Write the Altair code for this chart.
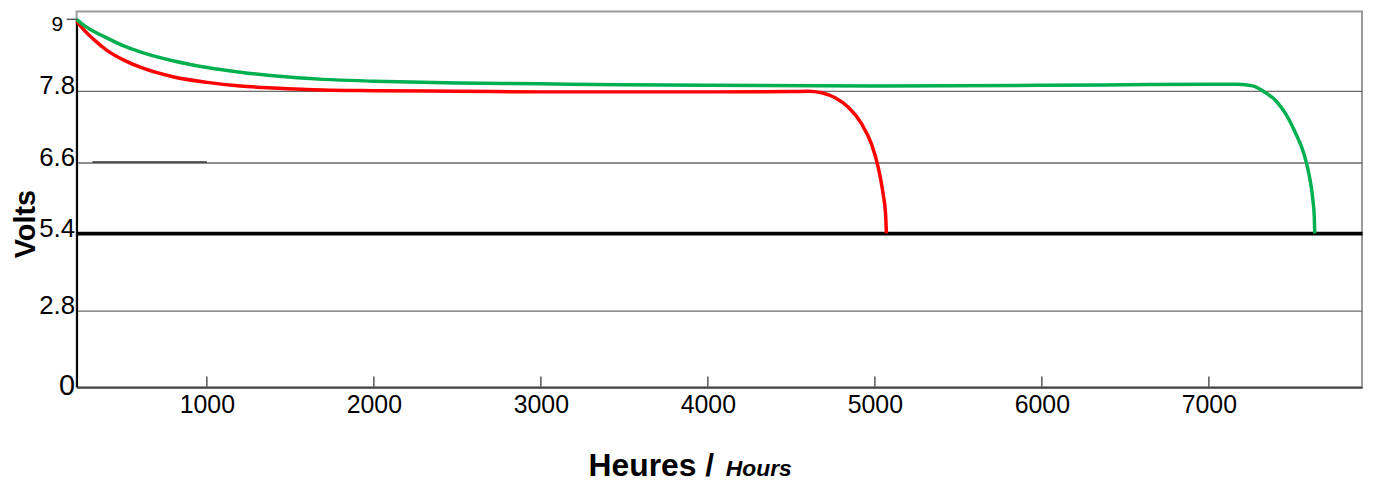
import altair as alt
import pandas as pd

# ---- data ----
red_hours = [220, 268, 327, 406, 506, 605, 803, 1002, 1200, 1399, 1696, 2000, 2500, 3000,
             3500, 4000, 4500, 4601, 4681, 4762, 4841, 4921, 4980, 5020, 5049, 5064, 5069]
red_volts = [8.97, 8.81, 8.65, 8.47, 8.31, 8.19, 8.03, 7.94, 7.88, 7.845, 7.81, 7.80, 7.79, 7.78,
             7.78, 7.78, 7.785, 7.79, 7.765, 7.68, 7.52, 7.24, 6.90, 6.51, 6.07, 5.73, 5.40]

green_hours = [220, 268, 327, 406, 506, 605, 803, 1002, 1200, 1399, 1696, 2000, 2500, 3000,
               3500, 4000, 5000, 6000, 6500, 7000, 7173, 7262, 7321, 7401, 7460, 7520, 7569,
               7599, 7623, 7631, 7634]
green_volts = [9.0, 8.89, 8.79, 8.68, 8.55, 8.45, 8.30, 8.19, 8.11, 8.05, 7.99, 7.96, 7.93, 7.915,
               7.90, 7.89, 7.88, 7.89, 7.90, 7.91, 7.91, 7.88, 7.80, 7.63, 7.41, 7.08, 6.74,
               6.40, 5.96, 5.68, 5.40]

x_ticks = [1000, 2000, 3000, 4000, 5000, 6000, 7000]
y_ticks = [0, 2.8, 5.4, 6.6, 7.8, 9]

FONT = "Liberation Sans"

curves = pd.concat([
    pd.DataFrame({"hours": red_hours, "volts": red_volts, "serie": "red"}),
    pd.DataFrame({"hours": green_hours, "volts": green_volts, "serie": "green"}),
])

xscale = alt.Scale(domain=[220, 7917], nice=False, zero=False)
yscale = alt.Scale(domain=[0, 2.8, 5.4, 9], range=[377.5, 301, 223.3, 8], nice=False, zero=False)

yaxis = alt.Axis(
    values=y_ticks, title=None, ticks=False,
    labelExpr="(datum.value == 0 || datum.value == 9) ? format(datum.value, 'd') : format(datum.value, '.1f')",
    domainColor="black", domainWidth=2,
    labelFont=FONT, labelColor="black",
    labelFontSize={"condition": [{"test": "datum.value == 9", "value": 21},
                                 {"test": "datum.value == 0", "value": 29}], "value": 26},
    labelPadding={"condition": {"test": "datum.value == 9", "value": 14}, "value": 2},
    labelBaseline="alphabetic",
    labelOffset={"condition": [{"test": "datum.value == 9", "value": 11},
                               {"test": "datum.value == 0", "value": 8}], "value": 3},
    grid=True,
    gridColor={"condition": {"test": "datum.value == 5.4", "value": "black"}, "value": "#6a6a6a"},
    gridWidth={"condition": {"test": "datum.value == 5.4", "value": 3.8}, "value": 1.3},
    gridOpacity={"condition": {"test": "datum.value == 9 || datum.value == 0", "value": 0}, "value": 1},
)
xaxis = alt.Axis(
    values=x_ticks, format="d", title=None, ticks=False, grid=False,
    domainColor="#444444", domainWidth=2,
    labelFont=FONT, labelColor="black", labelFontSize=25, labelPadding=5,
)

lines = alt.Chart(curves).mark_line(strokeWidth=3.5, interpolate="monotone").encode(
    x=alt.X("hours:Q", scale=xscale, axis=xaxis),
    y=alt.Y("volts:Q", scale=yscale, axis=yaxis),
    color=alt.Color("serie:N", scale=alt.Scale(domain=["red", "green"], range=["#FF0000", "#00B050"]), legend=None),
)

xtick_df = pd.DataFrame({"hours": x_ticks, "volts": 0.0, "v1": 0.37})
xtick_rules = alt.Chart(xtick_df).mark_rule(color="#555555", strokeWidth=1.5).encode(
    x=alt.X("hours:Q", scale=xscale, axis=xaxis),
    y=alt.Y("volts:Q", scale=yscale, axis=yaxis),
    y2="v1:Q",
)

seg_df = pd.DataFrame({"hours": [315], "h1": [1000], "volts": [6.6]})
seg_rule = alt.Chart(seg_df).mark_rule(color="#333333", strokeWidth=1.6).encode(
    x=alt.X("hours:Q", scale=xscale, axis=xaxis),
    x2="h1:Q",
    y=alt.Y("volts:Q", scale=yscale, axis=yaxis),
)

top_df = pd.DataFrame({"volts": [9]})
top_tick = alt.Chart(top_df).mark_rule(color="#555555", strokeWidth=1.5).encode(
    x=alt.value(-10), x2=alt.value(0),
    y=alt.Y("volts:Q", scale=yscale, axis=yaxis),
)

ytitle = alt.Chart(pd.DataFrame({"t": ["Volts"]})).mark_text(
    font=FONT, fontSize=29, fontWeight="bold", angle=270, align="center", baseline="middle", color="black"
).encode(x=alt.value(-51), y=alt.value(214), text="t:N")

xtitle1 = alt.Chart(pd.DataFrame({"t": ["Heures /"]})).mark_text(
    font=FONT, fontSize=32, fontWeight="bold", align="left", baseline="alphabetic", color="black"
).encode(x=alt.value(515), y=alt.value(467), text="t:N")

xtitle2 = alt.Chart(pd.DataFrame({"t": ["Hours"]})).mark_text(
    font=FONT, fontSize=23, fontWeight="bold", fontStyle="italic", align="left", baseline="alphabetic", color="black"
).encode(x=alt.value(653), y=alt.value(467), text="t:N")

chart = alt.layer(lines, xtick_rules, seg_rule, top_tick, ytitle, xtitle1, xtitle2).properties(
    width=1293, height=378,
    autosize=alt.AutoSizeParams(type="none"),
    padding={"left": 69, "top": 2, "right": 3, "bottom": 96},
    background="white",
).configure_view(stroke="#9a9a9a", strokeWidth=2)

chart.save("out.html", embed_options={"renderer": "svg", "actions": False})
